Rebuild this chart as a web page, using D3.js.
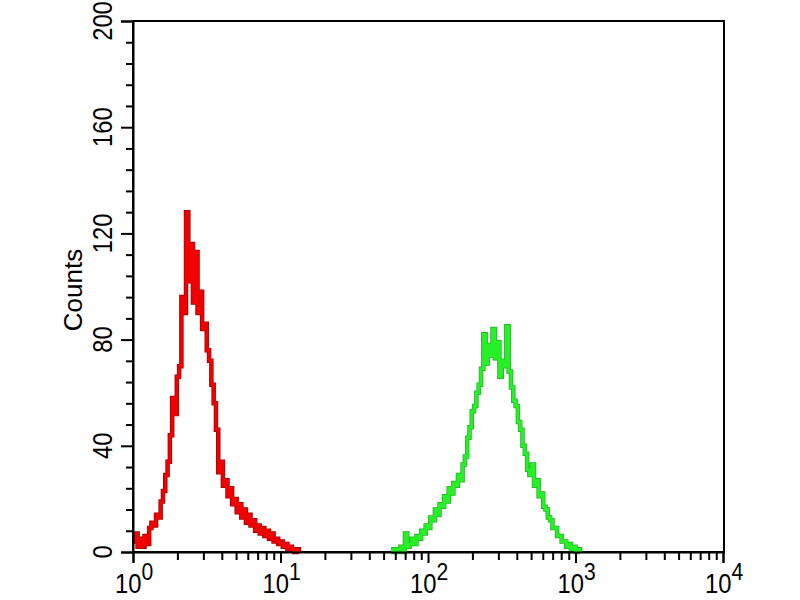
<!DOCTYPE html>
<html>
<head>
<meta charset="utf-8">
<script src="https://cdn.jsdelivr.net/npm/d3@7"></script>
<style>
  html, body { margin: 0; padding: 0; background: #fff; }
  svg { display: block; }
  text { font-family: "Liberation Sans", Arial, sans-serif; fill: #000; }
</style>
</head>
<body>
<div id="chart"></div>
<script>
// histogram channels: 64 per decade, channel i sits at 10^(i/64)
const channelsPerDecade = 64;

const redStart = 0;
const redCounts = [
    4, 7, 2, 5, 2, 6, 3, 9, 11, 10, 14, 13, 19, 23, 29, 34,
    44, 58, 52, 66, 70, 96, 90, 128, 102, 116, 94, 113, 90, 98, 84, 86,
    76, 72, 63, 56, 46, 30, 34, 25, 27, 21, 24, 18, 20, 15, 18, 13,
    16, 11, 14, 10, 12, 8, 10, 7, 9, 6, 8, 5, 7, 4, 5, 3,
    4, 2, 3, 1, 2, 1, 0, 1, 0
];

const greenStart = 112;
const greenCounts = [
    0, 1, 0, 1, 2, 0, 7, 2, 3, 5, 3, 6, 5, 8, 7, 10,
    9, 13, 12, 16, 14, 18, 17, 21, 19, 24, 22, 26, 25, 29, 27, 33,
    36, 43, 47, 53, 55, 60, 63, 69, 82, 71, 78, 74, 84, 73, 79, 66,
    72, 70, 85, 68, 62, 57, 55, 49, 46, 40, 37, 31, 29, 33, 25, 27,
    21, 22, 17, 16, 13, 12, 9, 9, 6, 6, 4, 4, 2, 3, 1, 2,
    0, 1, 0
];

const yMajorTicks = [0, 40, 80, 120, 160, 200];
const xExponents = [0, 1, 2, 3, 4];
const yLabel = "Counts";

const margin = { top: 21, right: 76, bottom: 48, left: 133 };
const width = 800 - margin.left - margin.right;
const height = 600 - margin.top - margin.bottom;

const svg = d3.select("#chart")
    .append("svg")
    .attr("width", 800)
    .attr("height", 600);

const g = svg.append("g")
    .attr("transform", `translate(${margin.left},${margin.top})`);

const x = d3.scaleLog()
    .domain([1, 10000])
    .range([0, width - 1]);

const y = d3.scaleLinear()
    .domain([0, 200])
    .range([height, 0]);

function toPoints(start, counts) {
    return counts.map((c, i) => ({ v: Math.pow(10, (start + i) / channelsPerDecade), c: c }));
}

const line = d3.line()
    .x(d => x(d.v))
    .y(d => y(d.c))
    .curve(d3.curveStepAfter);

// plot frame
g.append("rect")
    .attr("x", 0)
    .attr("y", 0)
    .attr("width", width)
    .attr("height", height)
    .attr("fill", "none")
    .attr("stroke", "#000")
    .attr("stroke-width", 2);

// traces: dark edge underneath, bright core on top
function trace(points, edge, core) {
    g.append("path")
        .datum(points)
        .attr("fill", "none")
        .attr("stroke", edge)
        .attr("stroke-width", 4.5)
        .attr("d", line);
    g.append("path")
        .datum(points)
        .attr("fill", "none")
        .attr("stroke", core)
        .attr("stroke-width", 3)
        .attr("d", line);
}
trace(toPoints(redStart, redCounts), "#a00000", "#f00000");
trace(toPoints(greenStart, greenCounts), "#20b020", "#28f028");

// y axis, minor then major ticks
const yMinor = d3.range(0, 201, 8).filter(v => v % 40 !== 0);
g.append("g")
    .call(d3.axisLeft(y).tickValues(yMinor).tickSize(7).tickFormat(""))
    .call(a => a.select(".domain").remove())
    .selectAll("line").attr("stroke-width", 2);

const yAxis = g.append("g")
    .call(d3.axisLeft(y).tickValues(yMajorTicks).tickSize(12).tickFormat(""));
yAxis.select(".domain").attr("stroke-width", 2);
yAxis.selectAll("line").attr("stroke-width", 2);

g.selectAll(".ylab")
    .data(yMajorTicks)
    .enter()
    .append("text")
    .attr("class", "ylab")
    .attr("transform", d => `translate(-21,${y(d)}) rotate(-90) scale(0.88,1)`)
    .attr("text-anchor", "middle")
    .style("font-size", "27px")
    .text(d => d);

// x axis, log ticks
const xMinor = [];
xExponents.slice(0, -1).forEach(e => {
    for (let k = 2; k <= 9; k++) xMinor.push(k * Math.pow(10, e));
});
g.append("g")
    .attr("transform", `translate(0,${height})`)
    .call(d3.axisBottom(x).tickValues(xMinor).tickSize(8).tickFormat(""))
    .call(a => a.select(".domain").remove())
    .selectAll("line").attr("stroke-width", 2);

const xAxis = g.append("g")
    .attr("transform", `translate(0,${height})`)
    .call(d3.axisBottom(x).tickValues(xExponents.map(e => Math.pow(10, e))).tickSize(11).tickFormat(""));
xAxis.select(".domain").attr("stroke-width", 2);
xAxis.selectAll("line").attr("stroke-width", 2);

const xLab = g.selectAll(".xlab")
    .data(xExponents)
    .enter()
    .append("text")
    .attr("class", "xlab")
    .attr("transform", e => `translate(${x(Math.pow(10, e)) - 18},${height + 41}) scale(0.88,1)`)
    .style("font-size", "27px");
xLab.append("tspan").text("10");
xLab.append("tspan")
    .attr("dy", -13)
    .style("font-size", "24px")
    .text(e => e);

// y title
g.append("text")
    .attr("transform", `translate(${82 - margin.left},${290 - margin.top}) rotate(-90)`)
    .attr("text-anchor", "middle")
    .style("font-size", "26px")
    .text(yLabel);
</script>
</body>
</html>
